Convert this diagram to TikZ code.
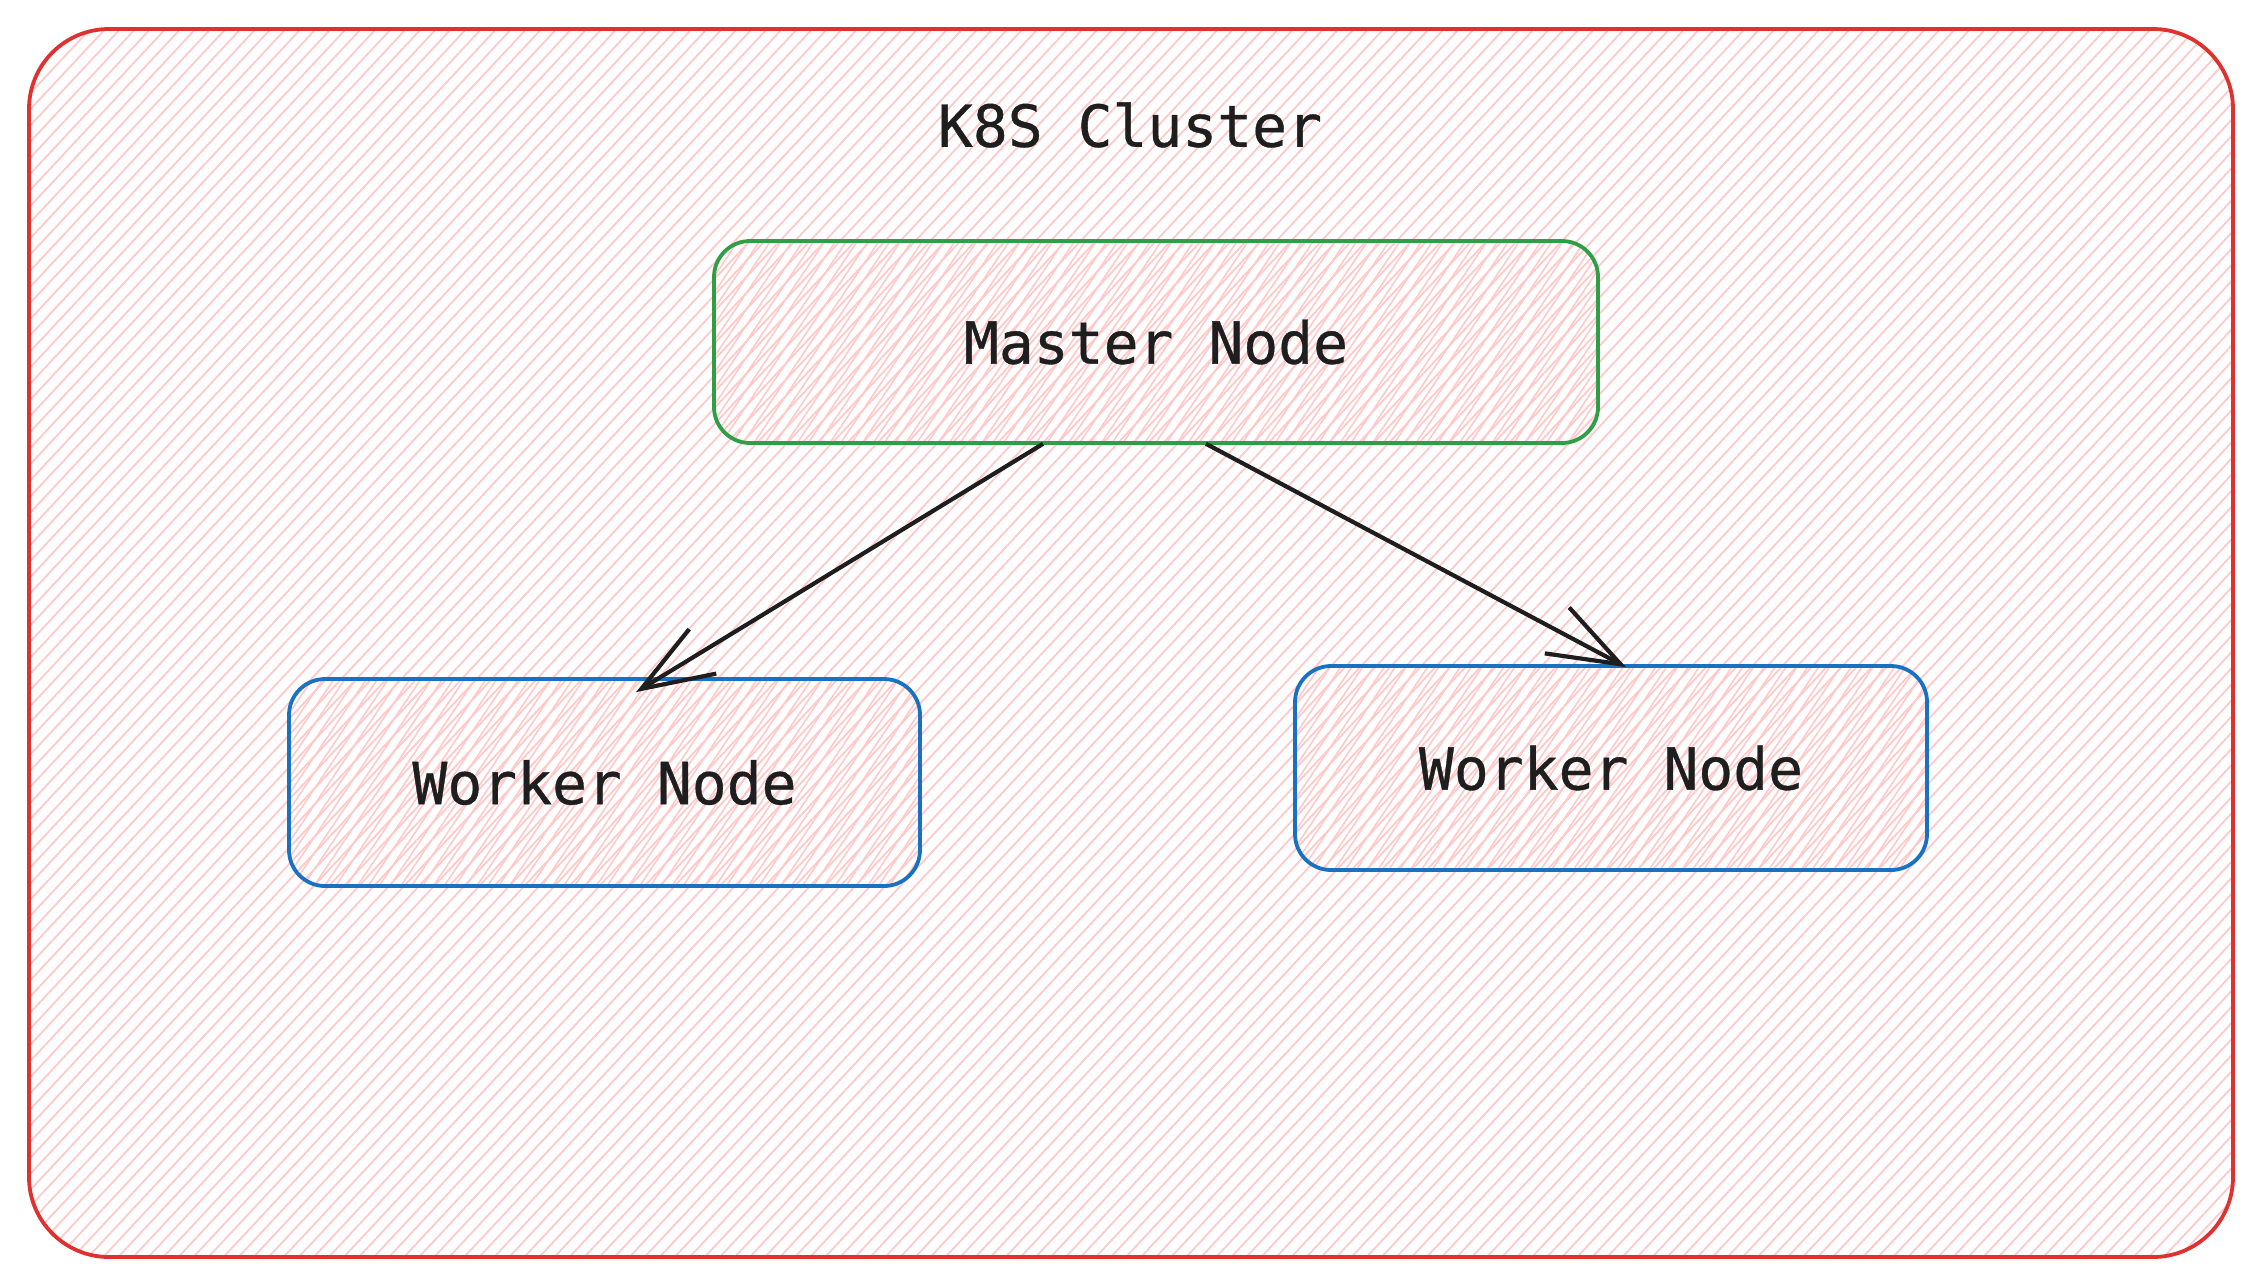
\documentclass[tikz,border=0pt]{standalone}
\usepackage{fontspec}
\newfontfamily\codefont[FakeBold=0.6]{DejaVu Sans Mono}
\usetikzlibrary{arrows.meta,patterns.meta}
\definecolor{clusterred}{HTML}{E03131}
\definecolor{masterg}{HTML}{2F9E44}
\definecolor{workerb}{HTML}{1971C2}
\definecolor{hatch}{HTML}{FFC9C9}
\definecolor{ink}{HTML}{1E1E1E}

\begin{document}
\begin{tikzpicture}[x=0.5pt,y=-0.5pt,
		txt/.style={text=ink,font=\codefont\fontsize{29}{34}\selectfont},
		cluster/.style={draw=clusterred,line width=1.9pt,rounded corners=40pt,minimum width=1102pt,minimum height=614pt,
			pattern={Lines[angle=47,distance=5.5pt,line width=0.9pt]},pattern color=hatch},
		box/.style={txt,line width=1.9pt,rounded corners=18pt,
			pattern={Lines[angle=56,distance=4.5pt,line width=0.8pt]},pattern color=hatch},
		link/.style={draw=ink,line width=2.1pt,-{Straight Barb[length=36pt,width=26pt]}}]
				\useasboundingbox[fill=white] (0,0) rectangle (2262,1287);
				\node[cluster] (cluster) at (1131,643) {};
				\node[txt] (title) at (1130,125) {K8S Cluster};
				\node[box,draw=masterg,minimum width=442pt,minimum height=101pt] (master) at (1156,342) {Master Node};
				\node[box,draw=workerb,minimum width=315.5pt,minimum height=103.5pt] (workerl) at (604.5,782.5) {Worker Node};
				\node[box,draw=workerb,minimum width=316pt,minimum height=102pt] (workerr) at (1611,768) {Worker Node};
				\draw[link] ([xshift=-56.5pt]master.south) to ([xshift=15.75pt,yshift=-7.5pt]workerl.north);
				\draw[link] ([xshift=25pt]master.south) to ([xshift=7.5pt,yshift=-1.5pt]workerr.north);
			\end{tikzpicture}
\end{document}
